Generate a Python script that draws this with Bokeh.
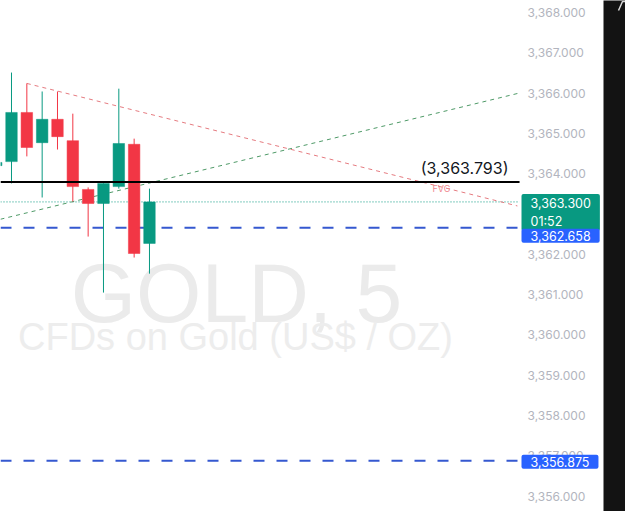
from bokeh.plotting import figure
from bokeh.models import Label, FixedTicker, NumeralTickFormatter, Range1d, ColumnDataSource
from bokeh.layouts import row
from bokeh.embed import file_html
from bokeh.resources import INLINE
from bokeh.core.properties import value

# ---- data ----
idx = [0, 1, 2, 3, 4, 5, 6, 7, 8, 9, 10]
opens = [3364.20, 3364.30, 3365.52, 3364.77, 3365.35, 3364.82, 3363.61, 3363.26, 3363.68, 3364.73, 3362.27]
highs = [3364.40, 3366.51, 3366.24, 3366.04, 3366.04, 3365.49, 3363.66, 3363.76, 3366.11, 3364.87, 3363.63]
lows = [3364.10, 3363.76, 3364.43, 3363.41, 3364.60, 3363.31, 3362.44, 3361.05, 3363.63, 3361.92, 3361.52]
closes = [3364.28, 3365.52, 3364.65, 3365.35, 3364.92, 3363.68, 3363.26, 3363.76, 3364.75, 3362.02, 3363.30]

last_price = 3363.300
countdown = "01:52"
level_black = 3363.793
level_blue_hi = 3362.658
level_blue_lo = 3356.875
down_trend_x = [2, 34.0]
down_trend_y = [3366.24, 3363.20]
up_trend_x = [0.28, 34.0]
up_trend_y = [3362.87, 3365.99]
fvg_x = 29.05
fvg_y = 3363.64
y_ticks = list(range(3356, 3369))

GREEN = "#089981"
RED = "#f23645"
BLUE = "#2962ff"
FONT = "Inter"

X0, X_PANE_END, X1 = 0.2825, 34.14, 39.616   # chart pane ends where the price scale begins

colors = [GREEN if c >= o else RED for o, c in zip(opens, closes)]
src = ColumnDataSource(dict(
    x=idx, o=opens, h=highs, l=lows, c=closes,
    top=[max(o, c) for o, c in zip(opens, closes)],
    bot=[min(o, c) for o, c in zip(opens, closes)],
    color=colors,
))

p = figure(width=603, height=511, x_range=Range1d(X0, X1),
           y_range=Range1d(3355.618, 3368.298),
           output_backend="svg", toolbar_location=None,
           min_border_left=0, min_border_top=0, min_border_bottom=0, min_border_right=0,
           x_axis_location=None, y_axis_location="right",
           background_fill_color="white", border_fill_color="white")
p.outline_line_color = None
p.xgrid.visible = False
p.ygrid.visible = False

ax = p.yaxis[0]
ax.ticker = FixedTicker(ticks=y_ticks)
ax.formatter = NumeralTickFormatter(format="0,0.000")
ax.axis_line_color = None
ax.major_tick_line_color = None
ax.minor_tick_line_color = None
ax.major_tick_out = 0
ax.major_tick_in = 0
ax.major_label_standoff = -76
ax.major_label_text_color = "#b2b5be"
ax.major_label_text_font = FONT
ax.major_label_text_font_size = "12px"

# watermark
p.add_layout(Label(x=236, y=219, x_units="screen", y_units="screen", text="GOLD, 5",
                   text_align="center", text_baseline="alphabetic", text_font="Liberation Sans",
                   text_font_size="84px", text_color="#ebebeb", level="underlay"))
p.add_layout(Label(x=235, y=175, x_units="screen", y_units="screen", text="CFDs on Gold (US$ / OZ)",
                   text_align="center", text_baseline="alphabetic", text_font="Liberation Sans",
                   text_font_size="38px", text_color="#ededed", level="underlay"))

# horizontal levels across the chart pane
p.segment(x0=[X0], y0=[last_price], x1=[X_PANE_END], y1=[last_price],
          line_color=GREEN, line_width=1, line_dash="1 2")
p.segment(x0=[X0, X0], y0=[level_blue_hi, level_blue_lo], x1=[X_PANE_END, X_PANE_END],
          y1=[level_blue_hi, level_blue_lo], line_color="#3558d0", line_width=2, line_dash="11 12")

# trend lines
p.line(down_trend_x, down_trend_y, line_color="#e57b80", line_width=1, line_dash="4 4")
p.line(up_trend_x, up_trend_y, line_color="#4f9a68", line_width=1, line_dash="4 4")

# candles
p.segment(x0="x", y0="l", x1="x", y1="h", source=src, line_color="color", line_width=1)
p.vbar(x="x", width=0.75, top="top", bottom="bot", source=src, fill_color="color", line_color="color", line_width=0.5)

p.segment(x0=[X0], y0=[level_black], x1=[X_PANE_END], y1=[level_black], line_color="black", line_width=2)

p.add_layout(Label(x=508, x_units="screen", y=level_black, text="({:,.3f})".format(level_black),
                   text_align="right", text_baseline="bottom", y_offset=4,
                   text_font=FONT, text_font_size="16px", text_color="#131722"))
p.text(x=[fvg_x], y=[fvg_y], text=["FVG"], text_align="center", text_baseline="middle",
       text_font=value(FONT), text_font_size="9px", text_color="#f08a8f")

# price tags on the price scale
p.add_layout(Label(x=521, x_units="screen", y=last_price, y_offset=8,
                   text="{:,.3f}\n{}".format(last_price, countdown),
                   text_align="left", text_baseline="top", text_font=FONT, text_font_size="12.5px",
                   text_color="white", background_fill_color=GREEN, padding=(9, 2), border_radius=2))
p.add_layout(Label(x=521, x_units="screen", y=level_blue_hi, y_offset=-8,
                   text="{:,.3f}".format(level_blue_hi),
                   text_align="left", text_baseline="middle", text_font=FONT, text_font_size="12.5px",
                   text_color="white", background_fill_color=BLUE, padding=(9, 2), border_radius=2))
p.add_layout(Label(x=521, x_units="screen", y=level_blue_lo, y_offset=-1,
                   text="{:,.3f}".format(level_blue_lo),
                   text_align="left", text_baseline="middle", text_font=FONT, text_font_size="12.5px",
                   text_color="white", background_fill_color=BLUE, padding=(9, 2), border_radius=2))

# dark side strip
s = figure(width=22, height=511, output_backend="svg", toolbar_location=None,
           min_border=0, x_axis_location=None, y_axis_location=None,
           background_fill_color="#131313", border_fill_color="#131313",
           x_range=Range1d(0, 22), y_range=Range1d(511, 0))
s.outline_line_color = None
s.grid.visible = False
s.line([15, 19, 22], [10, 1, 1], line_color="#d8d8d8", line_width=1.5)

layout = row(p, s)
open("out.html", "w").write(file_html(layout, INLINE))
